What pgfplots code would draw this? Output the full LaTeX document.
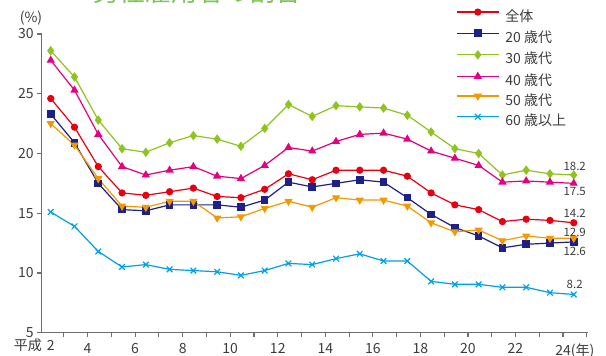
\documentclass[border=0pt]{standalone}
\usepackage{fontspec}
\setmainfont{Noto Sans CJK JP}
\usepackage{pgfplots}
\usepackage{pgfplotstable}
\pgfplotsset{compat=1.18}
\definecolor{cAll}{RGB}{230,0,18}
\definecolor{cA20}{RGB}{29,32,136}
\definecolor{cA30}{RGB}{143,195,31}
\definecolor{cA40}{RGB}{228,0,127}
\definecolor{cA50}{RGB}{243,152,0}
\definecolor{cA60}{RGB}{0,160,233}
\definecolor{axgray}{RGB}{110,110,110}
\definecolor{txtgray}{RGB}{60,60,60}
\definecolor{titlegreen}{RGB}{125,195,90}
\newcommand{\legtxt}[1]{\smash{#1}\rule[-3pt]{0pt}{13.5pt}}

\pgfplotstableread{
yr all a20 a30 a40 a50 a60
2  24.6 23.3 28.6 27.8 22.5 15.1
3  22.2 20.9 26.4 25.3 20.7 13.9
4  18.9 17.5 22.8 21.6 17.9 11.8
5  16.7 15.3 20.4 18.9 15.6 10.5
6  16.5 15.2 20.1 18.2 15.5 10.7
7  16.8 15.7 20.9 18.6 16.0 10.3
8  17.1 15.7 21.5 18.9 16.0 10.2
9  16.4 15.7 21.2 18.1 14.6 10.1
10 16.3 15.5 20.6 17.9 14.7 9.8
11 17.0 16.1 22.1 19.0 15.4 10.2
12 18.3 17.6 24.1 20.5 16.0 10.8
13 17.8 17.2 23.1 20.2 15.5 10.7
14 18.6 17.5 24.0 21.0 16.3 11.2
15 18.6 17.8 23.9 21.6 16.1 11.6
16 18.6 17.6 23.8 21.7 16.1 11.0
17 18.1 16.3 23.2 21.2 15.6 11.0
18 16.7 14.9 21.8 20.2 14.2 9.3
19 15.7 13.8 20.4 19.6 13.45 9.05
20 15.3 13.1 20.0 19.0 13.6 9.05
21 14.3 12.1 18.2 17.6 12.7 8.8
22 14.5 12.4 18.6 17.7 13.1 8.8
23 14.4 12.5 18.3 17.6 12.9 8.35
24 14.2 12.6 18.2 17.5 12.9 8.2
}\data

\begin{document}
\begin{tikzpicture}
\begin{axis}[
  scale only axis, width=546.3pt, height=298.7pt,
  xmin=1.62, xmax=24.6, ymin=5, ymax=30,
  axis lines=left,
  axis line style={-, draw=axgray, line width=1.2pt},
  tick align=outside, major tick length=4.5pt,
  tick style={draw=axgray, line width=1.1pt},
  xtick={2.55,3.55,4.55,5.55,6.55,7.55,8.55,9.55,10.55,11.55,12.55,13.55,14.55,15.55,16.55,17.55,18.55,19.55,20.55,21.55,22.55,23.55,24.55},
  xticklabels={,4,,6,,8,,10,,12,,14,,16,,18,,20,,22,,24\rlap{(年)},},
  extra x ticks={2},
  extra x tick labels={\llap{平成\hspace{5pt}}2},
  extra x tick style={major tick length=0pt, grid=none},
  xticklabel style={yshift=-2.5pt},
  ytick={5,10,15,20,25,30},
  ticklabel style={font=\fontsize{14}{16}\selectfont, text=txtgray},
  /pgf/number format/assume math mode=true,
  legend cell align=left,
  legend style={at={(0.7584,1.0841)}, anchor=north west, draw=none, fill=none,
    font=\fontsize{14}{16}\selectfont, text=txtgray, inner sep=0pt, row sep=7.4pt,
    nodes={inner sep=0pt}},
  legend image code/.code={
    \draw[mark repeat=2,mark phase=2,line width=1.2pt,#1] plot coordinates {(0pt,4.5pt) (21pt,4.5pt) (42pt,4.5pt)};
    \path (48pt,4.5pt);
  },
  every axis plot/.append style={line width=1.2pt},
]
\addplot[color=cAll, mark=*, mark size=3pt] table[x=yr,y=all]{\data};
\addlegendentry{\legtxt{全体}}
\addplot[color=cA20, mark=square*, mark size=3.2pt] table[x=yr,y=a20]{\data};
\addlegendentry{\legtxt{20 歳代}}
\addplot[color=cA30, mark=diamond*, mark size=3.8pt] table[x=yr,y=a30]{\data};
\addlegendentry{\legtxt{30 歳代}}
\addplot[color=cA40, mark=triangle*, mark size=3.6pt] table[x=yr,y=a40]{\data};
\addlegendentry{\legtxt{40 歳代}}
\addplot[color=cA50, mark=triangle*, mark size=3.6pt, mark options={rotate=180}] table[x=yr,y=a50]{\data};
\addlegendentry{\legtxt{50 歳代}}
\addplot[color=cA60, mark=x, mark size=4pt] table[x=yr,y=a60]{\data};
\addlegendentry{\legtxt{60 歳以上}}
\begin{scope}[every node/.style={font=\fontsize{11.5}{13}\selectfont, text=txtgray}]
\node at (axis cs:24.04,18.95) {18.2};
\node at (axis cs:24.04,16.86) {17.5};
\node at (axis cs:24.04,15.02) {14.2};
\node at (axis cs:24.04,13.37) {12.9};
\node at (axis cs:24.04,11.84) {12.6};
\node at (axis cs:24.04,9.08) {8.2};
\end{scope}
\end{axis}
\node[text=txtgray, font=\fontsize{14}{16}\selectfont] at (-10.7pt,314.2pt) {(\%)};
\node[anchor=base west, inner sep=0pt, text=titlegreen, font=\fontsize{26}{30}\selectfont] at (51.3pt,330.7pt) {男性雇用者の割合};
\pgfresetboundingbox
\path[use as bounding box] (-41.7pt,-23.3pt) rectangle (564.3pt,332.7pt);
\end{tikzpicture}
\end{document}
